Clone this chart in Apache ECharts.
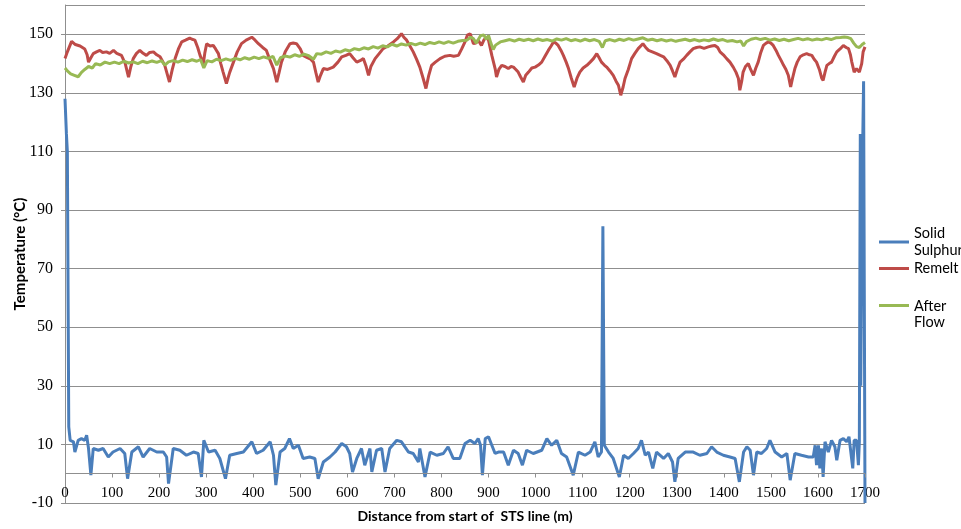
<!DOCTYPE html>
<html>
<head>
<meta charset="utf-8">
<script src="https://cdn.jsdelivr.net/npm/echarts@6/dist/echarts.min.js"></script>
<style>html,body{margin:0;padding:0;background:#fff;}#chart{width:961px;height:529px;}</style>
</head>
<body>
<div id="chart"></div>
<script>
const seriesNames = ['Solid Sulphur', 'Remelt', 'After Flow'];
const legendLabels = ['Solid\nSulphur', 'Remelt', '{a|After}\n{b|Flow}'];
const xTicks = [0, 100, 200, 300, 400, 500, 600, 700, 800, 900, 1000, 1100, 1200, 1300, 1400, 1500, 1600, 1700];

const solidSulphur = [[0,128],[3,116],[5,110],[8,16],[11,11.4],[18,10.9],[21,7.4],[28,11.4],[35,12],[42,11.4],[46,13.1],[50,8.6],[55,-0.5],[60,8.6],[71,8],[81,8.6],[92,5.7],[102,7.4],[117,8.6],[127,6.9],[133,-1.7],[142,7.4],[156,9.2],[166,5.7],[180,8.6],[195,7.4],[209,7.4],[216,5.7],[220,-3.4],[230,8.6],[244,8],[258,6.3],[273,7.4],[283,6.9],[290,-1.1],[295,11.4],[305,7.4],[319,8],[329,5.2],[341,-1.7],[350,6.3],[365,6.9],[379,7.4],[397,10.9],[407,6.9],[421,8],[436,10.9],[443,6.3],[448,-3.9],[457,7.4],[467,8.6],[477,12],[485,8.6],[496,9.7],[506,5.2],[520,5.7],[531,5.2],[538,-1.7],[549,4],[563,5.7],[574,7.4],[588,10.3],[598,9.2],[605,6.9],[611,0.6],[620,5.2],[630,8.6],[637,2.9],[648,8.6],[652,0.6],[662,8],[673,8.6],[680,0.6],[690,8.6],[705,11.4],[715,10.9],[730,7.4],[740,6.9],[751,4],[754,8.6],[765,-1.1],[776,7.4],[790,6.3],[804,6.9],[814,9.2],[825,5.2],[839,5.2],[850,10.3],[861,11.4],[871,10.3],[878,12],[883,9.7],[887,-0.5],[893,12],[900,12.6],[907,9.7],[914,6.9],[921,7.4],[932,7.4],[942,2.9],[953,8],[963,6.9],[972,2.9],[981,8],[995,6.9],[1013,8],[1024,12],[1034,9.7],[1045,11.4],[1055,6.9],[1066,5.7],[1080,-0.5],[1091,7.4],[1105,6.3],[1116,7.4],[1126,10.9],[1133,5.7],[1140,7.4],[1143,84.5],[1146,9.7],[1155,7.4],[1165,5.2],[1178,-1.1],[1187,6.3],[1197,5.2],[1208,6.9],[1218,8.6],[1225,11.4],[1233,6.3],[1240,7.4],[1249,1.8],[1257,7.4],[1272,5.2],[1282,6.9],[1291,4],[1296,-2.8],[1303,5.2],[1318,7.4],[1335,7.4],[1349,6.3],[1364,6.9],[1374,9.2],[1385,7.4],[1399,6.3],[1413,5.7],[1424,5.2],[1433,-2.8],[1442,7.4],[1449,9.2],[1456,8],[1463,-0.5],[1470,7.4],[1480,6.9],[1491,8.6],[1498,11.4],[1509,7.4],[1523,5.7],[1534,6.9],[1541,-2.2],[1551,6.9],[1565,6.3],[1580,5.7],[1590,5.7],[1594,9.7],[1597,2.9],[1601,9.7],[1604,1.8],[1608,8.6],[1611,-1.1],[1615,10.9],[1622,7.4],[1629,11.4],[1636,9.2],[1640,4.6],[1647,11.4],[1654,12],[1661,10.9],[1666,12.6],[1670,12],[1674,1.8],[1677,11.4],[1682,11.4],[1686,2.9],[1688,10.9],[1690,116],[1691,30],[1694,100],[1697,134],[1700,-10]];

const remelt = [[0,141.7],[5,144],[14,147.6],[22,146.5],[32,146],[42,145],[47,143],[50,140.5],[55,142],[60,143.4],[67,144],[74,144.5],[80,143.8],[88,144],[95,143.5],[103,144.5],[110,143.5],[120,142.8],[128,140],[135,135.4],[140,139],[145,141.7],[152,143.5],[159,144.5],[166,143.5],[173,142.8],[180,143.8],[188,144],[195,143],[202,142.3],[212,139.4],[222,133.7],[228,138],[234,141.7],[241,145],[248,147.4],[256,148],[265,148.7],[270,148.3],[276,148],[282,145.5],[287,142.8],[294,140],[297,143.5],[301,146.8],[308,146],[315,146.2],[320,145],[326,143.4],[331,140],[336,137.1],[343,133.2],[350,137],[358,140.5],[366,144],[375,146.8],[385,148],[397,149],[404,148],[411,146.8],[420,145.5],[428,144.5],[436,141],[443,138.3],[450,133.7],[455,137],[460,140.5],[468,144],[478,146.8],[485,147],[492,146.8],[500,145],[506,142.8],[515,142],[522,141.5],[528,140.5],[533,137],[538,133.7],[543,136],[549,138.3],[558,138],[570,138.8],[580,140.5],[588,142.3],[597,142.8],[605,143.4],[612,142],[620,140.5],[627,141],[634,141.7],[640,139],[645,136],[650,139],[659,141.7],[668,143.5],[676,145.1],[686,146],[698,147.4],[706,148.5],[715,150.2],[720,149],[726,148],[733,146],[740,144],[747,141.5],[754,138.8],[761,135],[767,131.5],[773,136],[779,139.4],[787,140.5],[797,141.7],[807,142.5],[818,142.8],[826,142.5],[836,142.8],[843,145],[850,147.4],[855,149.7],[861,150.2],[868,146.8],[873,147],[878,148],[885,146.2],[890,148],[895,149],[900,148],[907,142.8],[914,138.3],[917,135.4],[922,138],[928,139.4],[935,139],[942,138.3],[948,139],[953,138.8],[958,138],[963,137.1],[968,135.5],[974,133.7],[979,136],[985,137.1],[992,138.5],[999,138.8],[1006,139.5],[1013,140.5],[1020,142.5],[1027,144.5],[1033,146],[1038,147.4],[1043,147],[1048,146.2],[1054,144.5],[1059,142.8],[1065,140.5],[1070,138.3],[1076,135],[1082,132],[1088,135],[1094,137.1],[1101,138.5],[1109,139.4],[1116,140.5],[1123,141.7],[1130,143.4],[1135,142],[1140,140.5],[1146,139.5],[1151,138.8],[1158,137.5],[1165,136],[1171,134],[1176,132.6],[1181,129.2],[1186,132],[1190,134.9],[1197,138],[1204,141.7],[1211,143.5],[1218,145.1],[1228,146.8],[1234,145.5],[1240,144.5],[1248,144],[1257,143.4],[1265,142.8],[1272,142.3],[1279,141],[1286,139.4],[1291,137.5],[1296,135.4],[1301,138],[1307,140.5],[1314,141.5],[1321,142.8],[1328,144],[1335,145.1],[1342,145.5],[1349,145.7],[1358,145.2],[1367,145.7],[1374,146],[1381,146.2],[1387,145.5],[1392,144],[1399,143],[1406,141.7],[1413,140.5],[1420,138.8],[1426,137],[1431,134.9],[1434,130.9],[1438,134],[1441,137.1],[1446,139],[1452,140],[1457,138],[1463,136],[1468,138.5],[1473,140.5],[1478,143.5],[1484,146.2],[1490,147],[1495,147.4],[1500,147],[1505,146.2],[1511,144.5],[1516,142.8],[1522,141],[1527,139.4],[1532,138],[1537,136],[1542,132],[1546,135],[1551,138.3],[1556,140.5],[1562,142.3],[1569,143],[1576,143.4],[1582,143],[1587,142.8],[1592,141.5],[1597,140.5],[1603,138],[1608,135],[1611,134.3],[1615,137],[1619,139.4],[1624,140],[1629,140.5],[1635,142.5],[1640,144],[1647,145],[1654,146.2],[1660,145.5],[1665,145.1],[1669,143],[1672,140.5],[1677,137.1],[1682,138.3],[1688,137.1],[1693,140],[1696,144],[1700,145.7]];

const afterFlow = [[0,138.5],[5,137.5],[12,136.5],[20,136],[28,135.5],[35,137],[42,138],[50,139],[58,138.5],[65,140],[75,139.5],[85,140.5],[95,140],[105,140.5],[115,140],[125,140.8],[135,140.2],[145,140.6],[155,140],[165,140.8],[175,140.3],[185,140.9],[195,140.4],[205,141],[212,139.5],[220,140.6],[230,141],[240,140.5],[250,141.2],[260,140.7],[270,141.3],[280,140.8],[288,141.4],[295,138.5],[302,141],[312,140.6],[322,141.5],[332,141],[342,141.6],[352,141.1],[362,141.8],[372,141.3],[382,142],[392,141.5],[402,142.2],[412,141.7],[422,142.3],[432,141.8],[442,142.5],[450,139.5],[458,142],[468,142.6],[478,142.2],[488,143],[498,142.5],[508,143.2],[518,142.7],[528,141.5],[535,143.4],[545,143.2],[555,144],[565,143.5],[575,144.3],[585,143.9],[595,144.7],[605,144.3],[615,145.1],[625,144.7],[635,145.4],[645,145],[655,145.8],[665,145.3],[675,146.1],[685,145.7],[695,146.6],[705,146],[715,146.7],[725,146.3],[735,146.9],[745,146.4],[755,147],[765,146.5],[775,147.2],[785,146.8],[795,147.4],[805,146.9],[815,147.5],[825,147],[835,147.6],[845,147.9],[854,148],[862,149],[868,148.5],[874,147],[878,146.8],[883,149.5],[890,149.8],[895,148.3],[900,149.6],[905,147],[910,144.8],[915,146.3],[925,147.4],[935,147.8],[945,148.2],[955,147.7],[965,148.3],[975,147.9],[985,148.3],[995,147.8],[1005,148.4],[1015,147.9],[1025,148.2],[1035,147.7],[1045,148.4],[1055,148],[1065,148.5],[1075,147.8],[1085,148.2],[1095,147.7],[1105,148.3],[1115,147.8],[1125,148.2],[1135,147.6],[1142,145.5],[1148,147.8],[1158,148.2],[1168,147.7],[1178,148.3],[1188,147.9],[1198,148.5],[1208,148],[1218,148.4],[1228,148.8],[1238,148],[1248,148.3],[1258,147.8],[1268,148.2],[1278,147.7],[1288,148.1],[1298,147.6],[1308,148],[1318,148.3],[1328,147.8],[1338,148.2],[1348,147.7],[1358,148.1],[1368,147.8],[1378,148.4],[1388,147.9],[1398,148.2],[1408,147.6],[1418,147.9],[1428,147.4],[1436,147.7],[1442,146],[1448,147.5],[1458,148.3],[1468,148.7],[1478,148.2],[1488,148.6],[1498,148],[1508,148.4],[1518,147.9],[1528,148.3],[1538,147.8],[1548,148.2],[1558,148.6],[1568,148.1],[1578,148.5],[1588,148],[1598,148.4],[1608,148.1],[1618,148.6],[1628,148.2],[1638,148.8],[1648,148.9],[1656,149.1],[1664,148.9],[1670,148.5],[1676,147],[1682,145.8],[1688,145.5],[1694,146.5],[1700,147.2]];

const colors = ['#4a7ebb', '#be4b48', '#98b954'];
const xTitle = 'Distance from start of  STS line (m)';
const yTitle = 'Temperature (°C)';

const chart = echarts.init(document.getElementById('chart'), null, {renderer: 'canvas'});
const gridGray = '#8f8f8f';
const labelMap = {};
seriesNames.forEach((n, i) => labelMap[n] = legendLabels[i]);
const legendText = {fontFamily: 'Lato', fontSize: 14.5, lineHeight: 17, color: '#000'};

// x axis line sits at temperature 0 with small downward ticks (drawn through the value scales)
const zeroAxisLines = [[{coord: [0, 0]}, {coord: [1700, 0]}]].concat(
  xTicks.map(v => [{coord: [v, 0]}, {coord: [v, -1.3]}])
);

const option = {
  animation: false,
  color: colors,
  grid: {left: 65, right: 96, top: 5, bottom: 26, containLabel: false, outerBoundsMode: 'none'},
  legend: [{
    data: [seriesNames[0], seriesNames[1]],
    orient: 'vertical', left: 879, top: 225, itemGap: 1, padding: 0,
    icon: 'rect', itemWidth: 30, itemHeight: 3,
    formatter: n => labelMap[n],
    textStyle: legendText
  }, {
    data: [seriesNames[2]],
    orient: 'vertical', left: 879, top: 280, padding: 0,
    icon: 'rect', itemWidth: 30, itemHeight: 3,
    formatter: n => labelMap[n],
    textStyle: Object.assign({}, legendText, {
      rich: {
        a: {fontFamily: 'Lato', fontSize: 14.5, lineHeight: 34, verticalAlign: 'bottom', color: '#000'},
        b: {fontFamily: 'Lato', fontSize: 14.5, lineHeight: 17, color: '#000'}
      }
    })
  }],
  xAxis: {
    type: 'value', min: 0, max: 1700, interval: 100,
    name: xTitle, nameLocation: 'middle', nameGap: 6,
    nameTextStyle: {fontFamily: 'Lato', fontWeight: 'bold', fontSize: 14, color: '#000'},
    axisLine: {show: false, onZero: false},
    axisTick: {show: false},
    axisLabel: {fontFamily: 'Liberation Serif', fontSize: 15, color: '#000', margin: -17, formatter: v => String(v)},
    splitLine: {show: false}
  },
  yAxis: {
    type: 'value', min: -10, max: 160, interval: 20,
    name: yTitle, nameLocation: 'middle', nameGap: 37, nameRotate: 90, nameMoveOverlap: false,
    nameTextStyle: {fontFamily: 'Lato', fontWeight: 'bold', fontSize: 15, color: '#000'},
    axisLine: {show: true, onZero: false, lineStyle: {color: gridGray, width: 1}},
    axisTick: {show: true, length: 4, lineStyle: {color: gridGray}},
    axisLabel: {fontFamily: 'Liberation Serif', fontSize: 16, color: '#000', margin: 12, showMaxLabel: false},
    splitLine: {show: true, lineStyle: {color: gridGray, width: 1}}
  },
  series: [
    {name: seriesNames[0], type: 'line', data: solidSulphur, showSymbol: false, symbol: 'none', lineStyle: {width: 3, color: colors[0]},
     markLine: {silent: true, symbol: 'none', label: {show: false}, animation: false,
       lineStyle: {color: gridGray, width: 1, type: 'solid'}, emphasis: {disabled: true}, data: zeroAxisLines}},
    {name: seriesNames[1], type: 'line', data: remelt, showSymbol: false, symbol: 'none', lineStyle: {width: 3, color: colors[1]}},
    {name: seriesNames[2], type: 'line', data: afterFlow, showSymbol: false, symbol: 'none', lineStyle: {width: 3, color: colors[2]}}
  ]
};
chart.setOption(option);
</script>
</body>
</html>
